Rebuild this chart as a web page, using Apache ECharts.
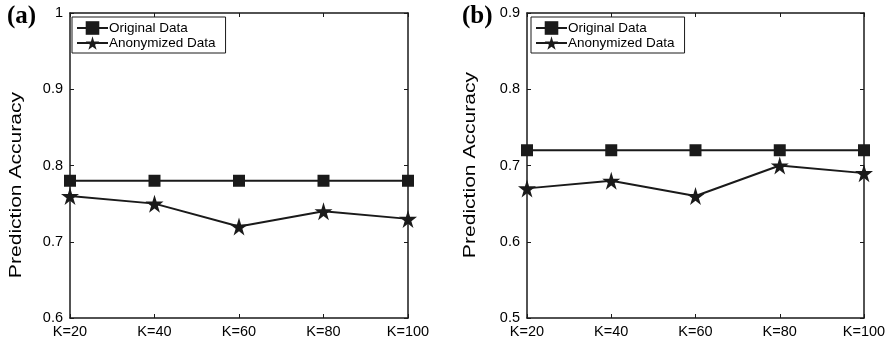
<!DOCTYPE html>
<html>
<head>
<meta charset="utf-8">
<script src="https://cdn.jsdelivr.net/npm/echarts@6/dist/echarts.min.js"></script>
<style>
  html, body { margin: 0; padding: 0; background: #fff; }
  #chart { width: 892px; height: 346px; }
</style>
</head>
<body>
<div id="chart"></div>
<script>
const categories = ["K=20", "K=40", "K=60", "K=80", "K=100"];
const originalA = [0.78, 0.78, 0.78, 0.78, 0.78];
const anonymizedA = [0.76, 0.75, 0.72, 0.74, 0.73];
const originalB = [0.72, 0.72, 0.72, 0.72, 0.72];
const anonymizedB = [0.67, 0.68, 0.66, 0.70, 0.69];

const star = "path://M50,0 L61,35 L98,35 L68,57 L79,91 L50,70 L21,91 L32,57 L2,35 L39,35 Z";
const font = "Liberation Sans";
const ink = "#1a1a1a";

const myChart = echarts.init(document.getElementById("chart"));

function xAxes(gridIndex) {
  const base = {
    type: "category",
    gridIndex: gridIndex,
    data: categories,
    boundaryGap: false,
    axisLine: { lineStyle: { color: ink, width: 1.5 } },
    axisTick: { inside: true, length: 4, alignWithLabel: true, lineStyle: { color: ink } },
    splitLine: { show: false }
  };
  return [
    Object.assign({}, base, {
      position: "bottom",
      axisLabel: { color: "#000", fontFamily: font, fontSize: 14.5, margin: 6 }
    }),
    Object.assign({}, base, { position: "top", axisLabel: { show: false } })
  ];
}

function yAxes(gridIndex, min, max) {
  const base = {
    type: "value",
    gridIndex: gridIndex,
    min: min,
    max: max,
    interval: 0.1,
    axisLine: { show: true, lineStyle: { color: ink, width: 1.5 } },
    axisTick: { show: true, inside: true, length: 4, lineStyle: { color: ink } },
    splitLine: { show: false }
  };
  return [
    Object.assign({}, base, {
      position: "left",
      axisLabel: { color: "#000", fontFamily: font, fontSize: 14.5, margin: 7 }
    }),
    Object.assign({}, base, { position: "right", axisLabel: { show: false } })
  ];
}

function lines(xi, yi, orig, anon) {
  return [
    {
      name: "Original Data",
      type: "line",
      xAxisIndex: xi,
      yAxisIndex: yi,
      data: orig,
      symbol: "rect",
      symbolSize: 12,
      itemStyle: { color: ink },
      lineStyle: { color: ink, width: 2 }
    },
    {
      name: "Anonymized Data",
      type: "line",
      xAxisIndex: xi,
      yAxisIndex: yi,
      data: anon,
      symbol: star,
      symbolSize: 18,
      itemStyle: { color: ink },
      lineStyle: { color: ink, width: 2 }
    }
  ];
}

function legend(left) {
  return {
    left: left,
    top: 17,
    orient: "vertical",
    itemGap: 1,
    itemWidth: 31,
    itemHeight: 17,
    padding: [4, 10, 3, 4],
    borderColor: ink,
    borderWidth: 1,
    backgroundColor: "#fff",
    textStyle: { color: "#000", fontFamily: font, fontSize: 13.5, padding: [0, 0, 0, -4] },
    data: ["Original Data", "Anonymized Data"]
  };
}

function yName(x, y) {
  return {
    type: "text", x: x, y: y, rotation: Math.PI / 2, scaleX: 1.24,
    style: {
      text: "Prediction Accuracy", fill: "#000",
      font: "17px 'Liberation Sans'", align: "center", verticalAlign: "middle"
    }
  };
}

let option = {
  animation: false,
  backgroundColor: "#fff",
  grid: [
    { left: 70, top: 13, width: 338, height: 305 },
    { left: 527, top: 13, width: 337, height: 305 }
  ],
  xAxis: xAxes(0).concat(xAxes(1)),
  yAxis: yAxes(0, 0.6, 1).concat(yAxes(1, 0.5, 0.9)),
  legend: [
    Object.assign(legend(72), { id: "la" }),
    Object.assign(legend(531), { id: "lb" })
  ],
  series: lines(0, 0, originalA, anonymizedA).concat(lines(2, 2, originalB, anonymizedB)),
  graphic: [
    {
      type: "text", left: 7, top: 4,
      style: { text: "(a)", fill: "#000", font: "bold 25px 'Liberation Serif'" }
    },
    {
      type: "text", left: 462, top: 4,
      style: { text: "(b)", fill: "#000", font: "bold 25px 'Liberation Serif'" }
    },
    yName(16, 185),
    yName(470, 165)
  ]
};
myChart.setOption(option);
</script>
</body>
</html>
